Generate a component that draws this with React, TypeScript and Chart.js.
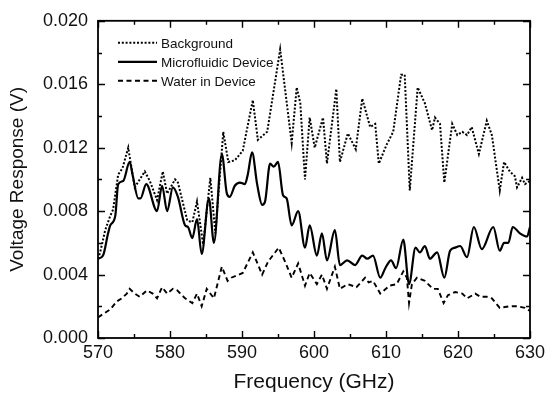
import { useEffect, useRef } from "react";
import { Chart, registerables } from "chart.js";

Chart.register(...registerables);

const bgFreq = [570.0, 570.3, 571.0, 571.7, 572.1, 572.8, 573.4, 574.2, 575.1, 576.5, 577.2, 578.2, 579.0, 579.6, 580.7, 581.1, 582.4, 583.1, 583.75, 584.6, 585.6, 586.3, 587.4, 588.1, 589.0, 590.1, 591.5, 592.2, 593.5, 595.3, 596.9, 597.6, 598.1, 598.75, 599.4, 600.1, 601.25, 601.8, 603.1, 603.6, 604.7, 605.8, 606.7, 607.8, 608.5, 609.0, 610.1, 611.0, 612.1, 612.6, 613.3, 614.4, 615.4, 616.4, 616.8, 617.5, 618.1, 619.2, 619.9, 620.6, 621.25, 621.9, 622.9, 624.0, 624.7, 625.8, 626.4, 627.2, 627.9, 628.2, 628.9, 629.3, 630.0];
const bgValues = [0.0050, 0.0054, 0.0068, 0.0077, 0.0081, 0.0103, 0.0107, 0.0120, 0.0095, 0.0105, 0.0099, 0.0087, 0.0105, 0.0091, 0.0100, 0.0098, 0.0074, 0.0073, 0.0086, 0.0059, 0.0101, 0.0066, 0.0130, 0.0111, 0.0112, 0.0118, 0.0150, 0.0125, 0.0130, 0.0182, 0.0123, 0.0158, 0.0148, 0.0100, 0.0139, 0.0120, 0.0139, 0.0110, 0.0157, 0.0111, 0.0129, 0.0119, 0.0151, 0.0133, 0.0135, 0.0110, 0.0122, 0.0130, 0.0166, 0.0166, 0.0093, 0.0158, 0.0148, 0.0131, 0.0139, 0.0135, 0.0098, 0.0135, 0.0128, 0.0130, 0.0128, 0.0133, 0.0116, 0.0137, 0.0128, 0.0093, 0.0111, 0.0105, 0.0102, 0.0095, 0.0101, 0.0097, 0.0099];

const mdFreq = [570.0, 570.7, 571.4, 571.7, 572.4, 572.8, 573.5, 574.4, 574.8, 575.6, 575.9, 576.7, 578.2, 578.9, 579.6, 580.4, 581.1, 582.1, 582.5, 583.1, 583.75, 584.4, 585.4, 586.1, 587.2, 587.9, 588.3, 589.0, 589.7, 590.4, 590.8, 591.4, 592.1, 592.8, 593.2, 593.9, 594.4, 595.0, 595.7, 596.2, 596.9, 597.8, 598.75, 599.4, 600.4, 601.1, 601.8, 602.9, 603.6, 604.6, 605.7, 606.7, 607.4, 608.2, 609.2, 609.9, 610.7, 611.4, 612.4, 613.2, 614.1, 614.7, 615.4, 616.1, 617.1, 618.1, 618.9, 619.6, 620.3, 621.25, 622.2, 623.3, 624.9, 625.8, 626.4, 627.0, 627.6, 628.6, 629.6, 630.0];
const mdValues = [0.0050, 0.0052, 0.0066, 0.0071, 0.0077, 0.0097, 0.0099, 0.0111, 0.0103, 0.0088, 0.0088, 0.0097, 0.0080, 0.0096, 0.0080, 0.0095, 0.0089, 0.0071, 0.0070, 0.0063, 0.0075, 0.0053, 0.0088, 0.0060, 0.0116, 0.0091, 0.0089, 0.0096, 0.0098, 0.0097, 0.0103, 0.0117, 0.0097, 0.0084, 0.0086, 0.0110, 0.0108, 0.0111, 0.0090, 0.0088, 0.0071, 0.0080, 0.0057, 0.0071, 0.0052, 0.0066, 0.0049, 0.0068, 0.0046, 0.0049, 0.0046, 0.0052, 0.0050, 0.0052, 0.0038, 0.0044, 0.0049, 0.0044, 0.0062, 0.0034, 0.0057, 0.0054, 0.0058, 0.0050, 0.0054, 0.0038, 0.0055, 0.0057, 0.0058, 0.0051, 0.0070, 0.0056, 0.0070, 0.0055, 0.0060, 0.0060, 0.0070, 0.0066, 0.0064, 0.0070];

const wFreq = [570.0, 571.7, 572.6, 573.3, 574.0, 574.4, 575.1, 575.8, 576.8, 577.6, 578.2, 578.9, 579.6, 580.4, 581.0, 582.1, 583.1, 583.75, 584.4, 585.1, 586.1, 587.2, 588.0, 588.5, 590.1, 591.5, 592.8, 593.6, 595.1, 596.0, 596.9, 597.8, 598.75, 599.4, 600.4, 601.1, 601.8, 602.9, 603.6, 604.7, 605.9, 607.1, 607.6, 608.2, 609.2, 610.5, 611.5, 612.4, 612.9, 613.2, 613.6, 614.3, 615.4, 616.5, 617.2, 618.0, 618.6, 619.6, 620.6, 621.25, 622.4, 623.1, 624.0, 624.7, 625.8, 627.2, 628.2, 629.3, 630.0];
const wValues = [0.0013, 0.0018, 0.0023, 0.0025, 0.0028, 0.0031, 0.0028, 0.0026, 0.0030, 0.0028, 0.0025, 0.0032, 0.0028, 0.0031, 0.0030, 0.0025, 0.0022, 0.0028, 0.0020, 0.0031, 0.0025, 0.0045, 0.0036, 0.0038, 0.0041, 0.0054, 0.0040, 0.0048, 0.0057, 0.0048, 0.0038, 0.0047, 0.0033, 0.0041, 0.0034, 0.0040, 0.0031, 0.0045, 0.0031, 0.0034, 0.0032, 0.0038, 0.0035, 0.0036, 0.0028, 0.0033, 0.0034, 0.0042, 0.0038, 0.0022, 0.0034, 0.0038, 0.0036, 0.0031, 0.0031, 0.0022, 0.0027, 0.0029, 0.0028, 0.0025, 0.0028, 0.0026, 0.0026, 0.0025, 0.0019, 0.0020, 0.0020, 0.0019, 0.0017];

const seriesLabels = ["Background", "Microfluidic Device", "Water in Device"];
const xMin = 570;
const xMax = 630;
const xStep = 10;
const yMin = 0;
const yMax = 0.02;
const yStep = 0.004;

const FONT = "Arial, 'Liberation Sans', sans-serif";

const toPoints = (xs: number[], ys: number[]) => xs.map((x, i) => ({ x, y: ys[i] }));

const framePlugin = {
  id: "frameTicks",
  afterDraw(chart: any) {
    const { ctx, chartArea, scales } = chart;
    const { left, right, top, bottom } = chartArea;
    const xs = scales.x;
    const ys = scales.y;
    ctx.save();
    ctx.strokeStyle = "#000";
    ctx.lineWidth = 1.8;
    ctx.strokeRect(left, top, right - left, bottom - top);
    ctx.lineWidth = 1.4;
    ctx.beginPath();
    for (let f = xMin; f <= xMax; f += xStep / 2) {
      const px = Math.round(xs.getPixelForValue(f)) + 0.5;
      const len = (f - xMin) % xStep === 0 ? 7 : 4;
      ctx.moveTo(px, bottom);
      ctx.lineTo(px, bottom - len);
      ctx.moveTo(px, top);
      ctx.lineTo(px, top + len);
    }
    const nY = Math.round((yMax - yMin) / (yStep / 2));
    for (let i = 0; i <= nY; i++) {
      const v = yMin + (i * yStep) / 2;
      const py = Math.round(ys.getPixelForValue(v)) + 0.5;
      const len = i % 2 === 0 ? 7 : 4;
      ctx.moveTo(left, py);
      ctx.lineTo(left + len, py);
      ctx.moveTo(right, py);
      ctx.lineTo(right - len, py);
    }
    ctx.stroke();
    ctx.restore();
  },
};

const legendPlugin = {
  id: "insideLegend",
  afterDraw(chart: any) {
    const { ctx, chartArea } = chart;
    const x0 = chartArea.left + 20;
    const x1 = chartArea.left + 59;
    const tx = chartArea.left + 63;
    const rows = [22, 41, 60];
    ctx.save();
    chart.data.datasets.forEach((ds: any, i: number) => {
      const y = chartArea.top + rows[i];
      ctx.strokeStyle = "#000";
      ctx.lineWidth = ds.borderWidth;
      ctx.setLineDash(ds.borderDash || []);
      ctx.beginPath();
      ctx.moveTo(x0, y);
      ctx.lineTo(x1, y);
      ctx.stroke();
      ctx.setLineDash([]);
      ctx.fillStyle = "#111";
      ctx.font = `13.5px ${FONT}`;
      ctx.textBaseline = "middle";
      ctx.textAlign = "left";
      ctx.fillText(ds.label, tx, y + 1);
    });
    ctx.restore();
  },
};

export default function App() {
  const ref = useRef<HTMLCanvasElement | null>(null);

  useEffect(() => {
    if (!ref.current) return;
    const chart = new Chart(ref.current, {
      type: "line",
      data: {
        datasets: [
          {
            label: seriesLabels[0],
            data: toPoints(bgFreq, bgValues),
            borderColor: "#000",
            borderWidth: 2,
            borderDash: [2, 1.8],
            pointRadius: 0,
            tension: 0,
            fill: false,
          },
          {
            label: seriesLabels[1],
            data: toPoints(mdFreq, mdValues),
            borderColor: "#000",
            borderWidth: 2.2,
            pointRadius: 0,
            cubicInterpolationMode: "monotone",
            fill: false,
          },
          {
            label: seriesLabels[2],
            data: toPoints(wFreq, wValues),
            borderColor: "#000",
            borderWidth: 1.9,
            borderDash: [5, 3.5],
            pointRadius: 0,
            tension: 0,
            fill: false,
          },
        ],
      },
      options: {
        responsive: false,
        animation: false,
        devicePixelRatio: 1,
        layout: { padding: { left: 0, top: 13, right: 20, bottom: 0 } },
        plugins: {
          legend: { display: false },
          tooltip: { enabled: false },
        },
        scales: {
          x: {
            type: "linear",
            min: xMin,
            max: xMax,
            grid: { display: false, drawTicks: false },
            border: { display: false },
            ticks: {
              stepSize: xStep,
              color: "#111",
              font: { family: FONT, size: 18 },
              padding: 4,
              maxRotation: 0,
            },
            title: {
              display: true,
              text: "Frequency (GHz)",
              color: "#111",
              font: { family: FONT, size: 21 },
              padding: { top: 0, bottom: 3 },
            },
            afterFit: (s: any) => {
              s.height = 60;
            },
          },
          y: {
            type: "linear",
            min: yMin,
            max: yMax,
            grid: { display: false, drawTicks: false },
            border: { display: false },
            ticks: {
              stepSize: yStep,
              color: "#111",
              font: { family: FONT, size: 18 },
              padding: 10,
              callback: (v: any) => Number(v).toFixed(3),
            },
            title: {
              display: true,
              text: "Voltage Response (V)",
              color: "#111",
              font: { family: FONT, size: 19 },
              padding: { top: 6, bottom: 0 },
            },
            afterFit: (s: any) => {
              s.width = 98;
            },
          },
        },
      },
      plugins: [framePlugin, legendPlugin],
    });
    return () => chart.destroy();
  }, []);

  return (
    <div style={{ position: "fixed", left: 0, top: 0, width: 550, height: 398, background: "#fff" }}>
      <canvas ref={ref} width={550} height={398} />
    </div>
  );
}
